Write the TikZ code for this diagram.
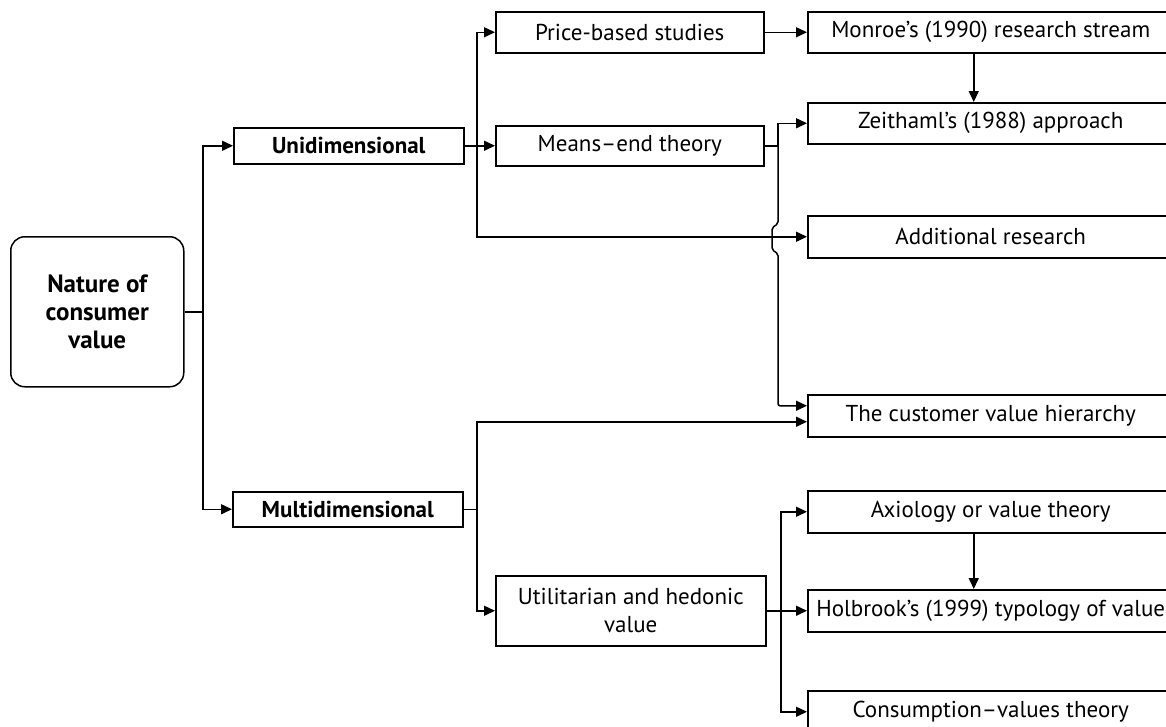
\documentclass[tikz,border=0pt]{standalone}
\usepackage{fontspec}
\setmainfont{PT Sans}
\usetikzlibrary{arrows.meta}

\begin{document}
\begin{tikzpicture}[x=1pt, y=-1pt,
  every node/.style={draw, line width=1.5pt, anchor=north west, inner sep=0pt, align=center,
    font=\fontsize{23}{28}\selectfont},
  box/.style={minimum width=268pt, minimum height=41pt},
  rbox/.style={minimum width=366pt, minimum height=42pt},
  bold/.style={font=\fontsize{23}{28}\selectfont\bfseries},
  arr/.style={-{Triangle[length=11pt,width=10pt]}},
  line width=1.5pt]

\useasboundingbox (0,0) rectangle (1166,726);
\clip (0,0) rectangle (1166,726);

% Root
\node[bold, font=\fontsize{25}{28}\selectfont\bfseries, rounded corners=14pt, minimum width=173pt, minimum height=150pt]
  (root) at (10,236) {Nature of\\consumer\\value};

% Dimensions
\node[bold, minimum width=230pt, minimum height=36pt] (uni) at (233,127) {Unidimensional};
\node[bold, minimum width=230pt, minimum height=35pt] (multi) at (232,491) {Multidimensional};

% Middle column
\node[box] (price) at (495,11) {Price-based studies};
\node[box, minimum height=40pt] (mend) at (495,125) {Means--end theory};
\node[box, minimum width=270pt, minimum height=70pt] (util) at (495,575) {Utilitarian and hedonic\\value};

% Right column
\node[rbox, minimum height=41pt] (monroe) at (807,11) {Monroe’s (1990) research stream};
\node[rbox, minimum height=41pt] (zeit) at (807,102) {Zeithaml’s (1988) approach};
\node[rbox] (addr) at (807,215) {Additional research};
\node[rbox] (cvh) at (807,394) {The customer value hierarchy};
\node[rbox] (axio) at (807,490) {Axiology or value theory};
\node[rbox] (holb) at (807,589) {Holbrook’s (1999) typology of value};
\node[rbox] (cons) at (807,690) {Consumption--values theory};

% Junctions
\coordinate (sp) at (root.east -| 203,0);
\coordinate (uj) at (uni.east -| 477,0);
\coordinate (mj) at (mend.east -| 778,0);
\coordinate (mlj) at (multi.east -| 477,0);
\coordinate (utj) at (util.east -| 781,0);

% Root branch
\draw (root.east) -- (sp);
\draw[arr] (sp) |- (uni.west);
\draw[arr] (sp) |- (multi.west);

% Unidimensional branch
\draw[arr] (uni.east) -- (mend.west);
\draw[arr] (uj) |- (price.west);
\draw[arr] (uj) |- (addr.west);
\draw[arr] (price.east) -- (monroe.west);
\draw[arr] ([xshift=-17pt]monroe.south) -- ([xshift=-17pt]zeit.north);
\draw (mend.east) -- (mj);
\draw[arr] (mj) |- (zeit.west);
\draw[arr, rounded corners=2pt] (mj) -- ++(0,78) -- ++(-6,4) -- ++(0,22) -- ++(6,4) |- ([yshift=10pt]cvh.west);

% Multidimensional branch
\draw (multi.east) -- (mlj);
\draw[arr] (mlj) |- ([yshift=-6pt]cvh.west);
\draw[arr] (mlj) |- (util.west);
\draw[arr] (util.east) -- (holb.west);
\draw[arr] (utj) |- (axio.west);
\draw[arr] (utj) |- (cons.west);
\draw[arr] ([xshift=-17pt]axio.south) -- ([xshift=-17pt]holb.north);

\end{tikzpicture}
\end{document}
